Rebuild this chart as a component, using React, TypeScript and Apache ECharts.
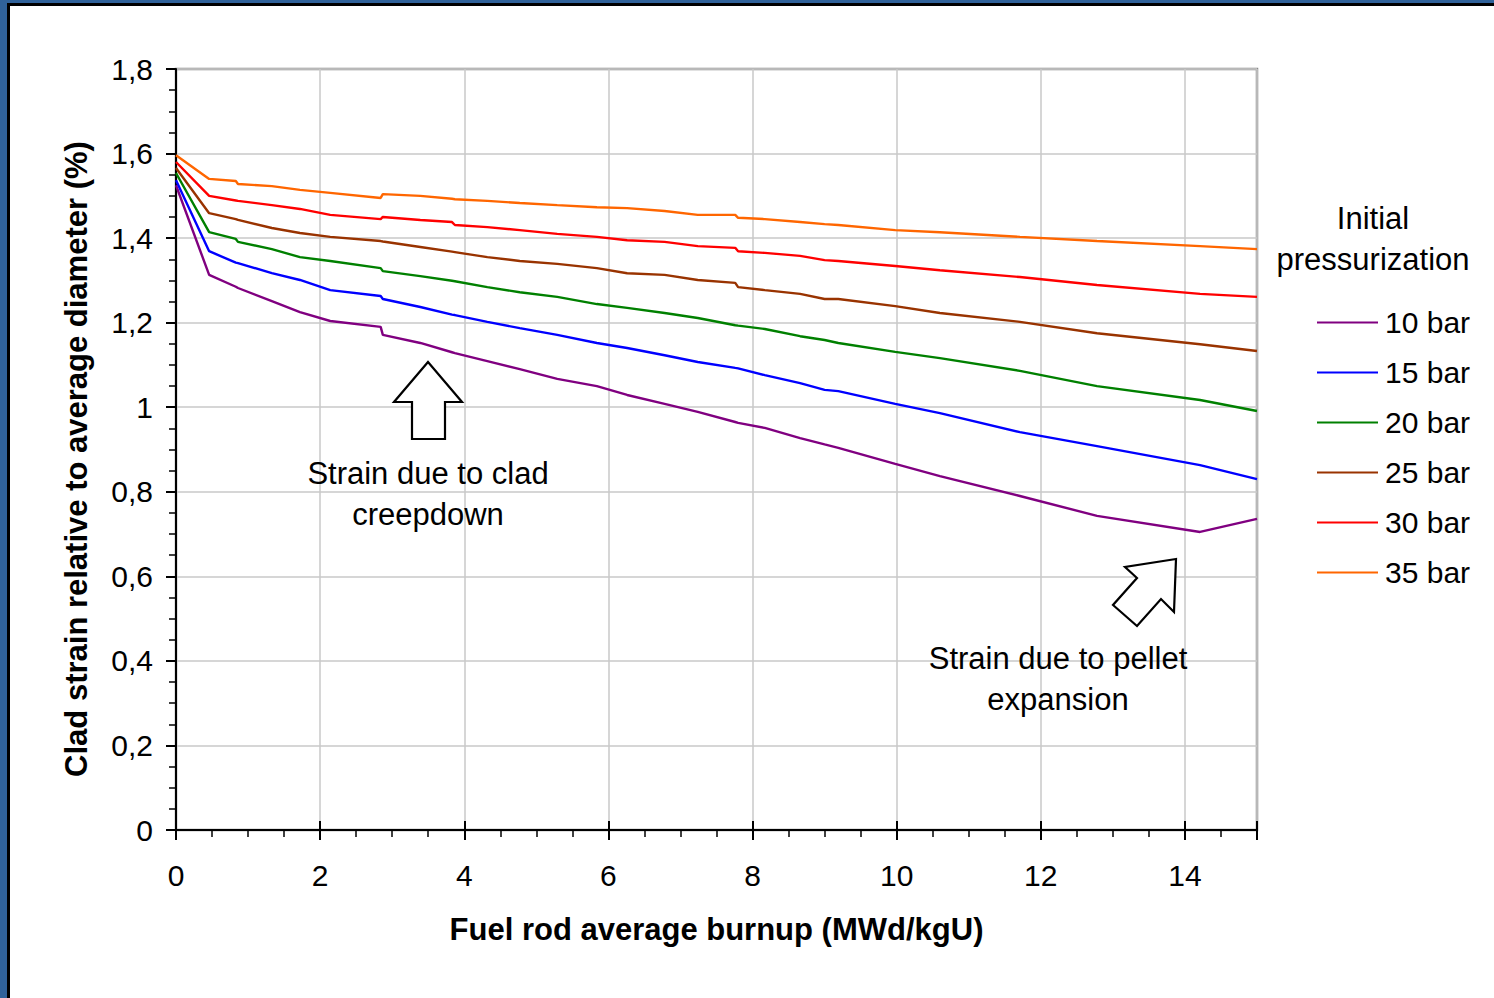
import React, { useEffect, useRef } from "react";
import * as echarts from "echarts";

const burnup = [0, 0.46, 0.83, 0.86, 1.33, 1.72, 2.14, 2.84, 2.87, 3.39, 3.83, 3.87, 4.32, 4.77, 5.29, 5.84, 6.26, 6.78, 7.24, 7.76, 7.8, 8.17, 8.66, 9.0, 9.19, 9.98, 10.6, 11.71, 12.78, 14.21, 15];

const bar10 = [1.525, 1.313, 1.285, 1.282, 1.251, 1.225, 1.204, 1.19, 1.171, 1.152, 1.13, 1.128, 1.109, 1.09, 1.067, 1.05, 1.029, 1.008, 0.989, 0.965, 0.963, 0.951, 0.927, 0.912, 0.904, 0.866, 0.837, 0.79, 0.743, 0.705, 0.736];
const bar15 = [1.537, 1.369, 1.342, 1.341, 1.317, 1.301, 1.277, 1.263, 1.256, 1.237, 1.219, 1.218, 1.202, 1.187, 1.171, 1.152, 1.14, 1.123, 1.107, 1.093, 1.092, 1.076, 1.057, 1.041, 1.038, 1.008, 0.986, 0.941, 0.908, 0.863, 0.83];
const bar20 = [1.554, 1.414, 1.398, 1.391, 1.374, 1.355, 1.346, 1.329, 1.322, 1.31, 1.299, 1.298, 1.284, 1.272, 1.261, 1.244, 1.235, 1.223, 1.211, 1.194, 1.193, 1.185, 1.168, 1.159, 1.152, 1.131, 1.116, 1.086, 1.05, 1.017, 0.991];
const bar25 = [1.566, 1.459, 1.445, 1.443, 1.424, 1.412, 1.403, 1.393, 1.392, 1.379, 1.368, 1.367, 1.355, 1.346, 1.339, 1.329, 1.317, 1.313, 1.301, 1.294, 1.284, 1.277, 1.268, 1.256, 1.256, 1.239, 1.223, 1.202, 1.175, 1.149, 1.133];
const bar30 = [1.58, 1.5, 1.489, 1.488, 1.478, 1.469, 1.455, 1.445, 1.45, 1.443, 1.438, 1.431, 1.426, 1.419, 1.41, 1.403, 1.395, 1.391, 1.381, 1.377, 1.369, 1.365, 1.358, 1.348, 1.346, 1.334, 1.324, 1.308, 1.289, 1.268, 1.261];
const bar35 = [1.596, 1.54, 1.535, 1.528, 1.523, 1.514, 1.507, 1.495, 1.504, 1.5, 1.493, 1.492, 1.488, 1.483, 1.478, 1.473, 1.471, 1.464, 1.455, 1.455, 1.448, 1.445, 1.438, 1.433, 1.431, 1.419, 1.414, 1.403, 1.393, 1.381, 1.374];

const seriesNames = ["10 bar", "15 bar", "20 bar", "25 bar", "30 bar", "35 bar"];
const seriesValues = [bar10, bar15, bar20, bar25, bar30, bar35];
const seriesColors = ["#800080", "#0000ff", "#008000", "#993300", "#ff0000", "#ff6600"];

const FONT = "Liberation Sans, Arial, sans-serif";

export default function App() {
  const ref = useRef<HTMLDivElement>(null);
  useEffect(() => {
    document.body.style.margin = "0";
    const chart = echarts.init(ref.current!, undefined, { renderer: "svg" });
    const fmt = (v: number) => String(Math.round(v * 100) / 100).replace(".", ",");
    chart.setOption({
      animation: false,
      backgroundColor: "#ffffff",
      textStyle: { fontFamily: FONT },
      grid: {
        left: 176,
        top: 69,
        right: 237,
        bottom: 168,
        show: true,
        borderColor: "#888888",
        borderWidth: 2.5,
        containLabel: false,
      },
      legend: {
        orient: "vertical",
        left: 1317,
        top: 306,
        padding: 0,
        icon: "rect",
        itemWidth: 61,
        itemHeight: 2,
        itemGap: 17,
        data: seriesNames,
        textStyle: { fontFamily: FONT, fontSize: 30, color: "#000", lineHeight: 33, padding: [0, 0, 0, 2] },
      },
      xAxis: [
        {
          type: "value",
          min: 0,
          max: 15,
          interval: 2,
          name: "Fuel rod average burnup (MWd/kgU)",
          nameLocation: "middle",
          nameGap: 84,
          nameTextStyle: { fontFamily: FONT, fontSize: 31, fontWeight: "bold", color: "#000" },
          axisLine: { show: true, onZero: false, lineStyle: { color: "#000", width: 2 } },
          axisTick: { show: true, length: 10, lineStyle: { color: "#000", width: 2 } },
          minorTick: { show: true, splitNumber: 4, length: 7, lineStyle: { color: "#000", width: 1.5 } },
          axisLabel: { fontFamily: FONT, fontSize: 30, color: "#000", margin: 30, showMaxLabel: false },
          splitLine: { show: true, lineStyle: { color: "#c8c8c8", width: 1.5 } },
        },
        {
          type: "value",
          min: 0,
          max: 15,
          interval: 2,
          position: "bottom",
          axisLine: { show: false },
          axisTick: { show: true, inside: true, length: 9, lineStyle: { color: "#000", width: 2 } },
          axisLabel: { show: false },
          splitLine: { show: false },
        },
      ],
      yAxis: {
        type: "value",
        min: 0,
        max: 1.8,
        interval: 0.2,
        axisLine: { show: true, onZero: false, lineStyle: { color: "#000", width: 2 } },
        axisTick: { show: true, length: 10, lineStyle: { color: "#000", width: 2 } },
        minorTick: { show: true, splitNumber: 4, length: 7, lineStyle: { color: "#000", width: 1.5 } },
        axisLabel: { fontFamily: FONT, fontSize: 30, color: "#000", margin: 23, formatter: fmt },
        splitLine: { show: true, lineStyle: { color: "#c8c8c8", width: 1.5 } },
      },
      series: seriesNames.map((name, i) => ({
        name,
        type: "line",
        xAxisIndex: 0,
        showSymbol: false,
        symbol: "none",
        lineStyle: { color: seriesColors[i], width: 2.4 },
        itemStyle: { color: seriesColors[i] },
        data: burnup.map((x, j) => [x, seriesValues[i][j]]),
        z: 3,
      })),
      graphic: [
        { type: "rect", shape: { x: 0, y: 0, width: 1494, height: 3 }, style: { fill: "#30629a" }, z: 100 },
        { type: "rect", shape: { x: 0, y: 0, width: 7, height: 998 }, style: { fill: "#30629a" }, z: 100 },
        { type: "rect", shape: { x: 7, y: 3, width: 1487, height: 3 }, style: { fill: "#000" }, z: 100 },
        { type: "rect", shape: { x: 7, y: 3, width: 3, height: 995 }, style: { fill: "#000" }, z: 100 },
        {
          type: "text",
          x: 76,
          y: 459,
          rotation: Math.PI / 2,
          style: {
            text: "Clad strain relative to average diameter (%)",
            fontFamily: FONT,
            fontSize: 31,
            fontWeight: "bold",
            fill: "#000",
            align: "center",
            verticalAlign: "middle",
          },
        },
        {
          type: "text",
          x: 1373,
          y: 239,
          style: {
            text: "Initial\npressurization",
            fontFamily: FONT,
            fontSize: 31,
            lineHeight: 41,
            fill: "#000",
            align: "center",
            verticalAlign: "middle",
          },
        },
        {
          type: "text",
          x: 428,
          y: 494,
          style: {
            text: "Strain due to clad\ncreepdown",
            fontFamily: FONT,
            fontSize: 31,
            lineHeight: 41,
            fill: "#000",
            align: "center",
            verticalAlign: "middle",
          },
          z: 50,
        },
        {
          type: "text",
          x: 1058,
          y: 679,
          style: {
            text: "Strain due to pellet\nexpansion",
            fontFamily: FONT,
            fontSize: 31,
            lineHeight: 41,
            fill: "#000",
            align: "center",
            verticalAlign: "middle",
          },
          z: 50,
        },
        {
          type: "polygon",
          shape: { points: [[428, 362], [462, 402], [445, 402], [445, 439], [412, 439], [412, 402], [394, 402]] },
          style: { fill: "#fff", stroke: "#000", lineWidth: 2.2 },
          z: 50,
        },
        {
          type: "polygon",
          shape: { points: [[1176, 559], [1125, 567], [1137, 578], [1113, 605], [1137, 626], [1161, 599], [1174, 612]] },
          style: { fill: "#fff", stroke: "#000", lineWidth: 2.2 },
          z: 50,
        },
      ],
    });
    return () => chart.dispose();
  }, []);
  return (
    <div style={{ position: "absolute", left: 0, top: 0, width: 1494, height: 998 }}>
      <div ref={ref} style={{ width: 1494, height: 998 }} />
    </div>
  );
}
